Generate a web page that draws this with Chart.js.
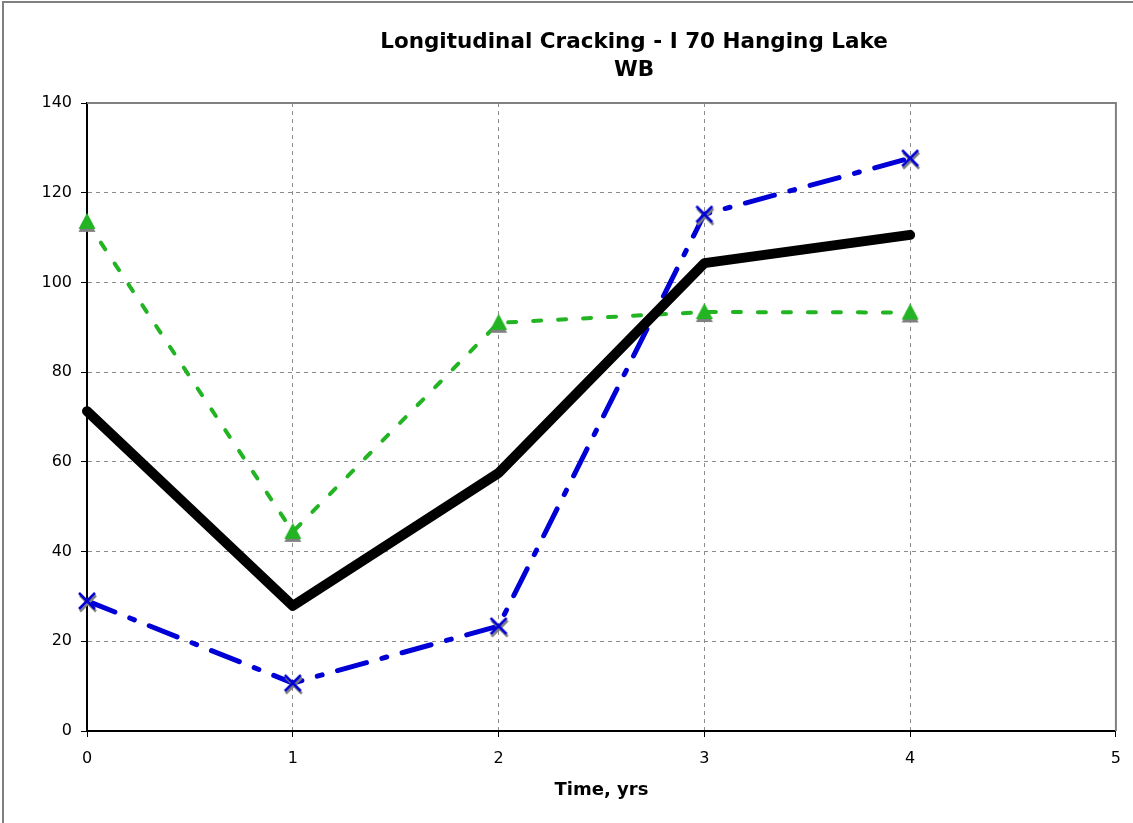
<!DOCTYPE html>
<html>
<head>
    <title>Longitudinal Cracking - I 70 Hanging Lake WB</title>
    <style type="text/css">
        body { margin: 0; background: #fff; }
        #chart-container { width: 1133px; height: 823px; position: relative; }
    </style>
    <script type="text/javascript" src="https://cdn.jsdelivr.net/npm/chart.js@4/dist/chart.umd.min.js"></script>
</head>
<body>

<div id="chart-container">
    <canvas id="graphCanvas"></canvas>
</div>

<script>
    var years = [0, 1, 2, 3, 4];
    var averageCracking = [71.3, 27.9, 57.5, 104.3, 110.6];
    var sectionA = [113.5, 44.4, 91.0, 93.4, 93.3];
    var sectionB = [29.0, 10.7, 23.4, 115.2, 127.7];
    var yTicks = [0, 20, 40, 60, 80, 100, 120, 140];
    var xTicks = [0, 1, 2, 3, 4, 5];

    function toPoints(values) {
        return years.map(function (x, i) { return { x: x, y: values[i] }; });
    }

    // marker images with the grey drop shadow Excel puts under them
    function triangleMarker(color) {
        var c = document.createElement('canvas');
        c.width = 28; c.height = 28;
        var g = c.getContext('2d');
        function tri(dy, fill) {
            g.fillStyle = fill;
            g.beginPath();
            g.moveTo(14, 5 + dy);
            g.lineTo(22.5, 21 + dy);
            g.lineTo(5.5, 21 + dy);
            g.closePath();
            g.fill();
        }
        tri(3, '#808080');
        tri(0, color);
        return c;
    }

    function crossMarker(color) {
        var c = document.createElement('canvas');
        c.width = 28; c.height = 28;
        var g = c.getContext('2d');
        function cross(dx, dy, stroke) {
            g.strokeStyle = stroke;
            g.lineWidth = 2.5;
            g.beginPath();
            g.moveTo(6 + dx, 6 + dy); g.lineTo(22 + dx, 22 + dy);
            g.moveTo(22 + dx, 6 + dy); g.lineTo(6 + dx, 22 + dy);
            g.stroke();
        }
        cross(1, 2.5, '#808080');
        cross(0, 0, color);
        return c;
    }

    var framePlugin = {
        id: 'frame',
        beforeDraw: function (chart) {
            var ctx = chart.ctx;
            ctx.save();
            ctx.fillStyle = '#fff';
            ctx.fillRect(0, 0, chart.width, chart.height);
            ctx.strokeStyle = '#808080';
            ctx.lineWidth = 2;
            ctx.strokeRect(3, 2, chart.width + 10, chart.height + 10);
            ctx.restore();
        },
        beforeDatasetsDraw: function (chart) {
            var a = chart.chartArea, ctx = chart.ctx;
            ctx.save();
            ctx.strokeStyle = '#808080';
            ctx.lineWidth = 2;
            ctx.beginPath();
            ctx.moveTo(a.left, a.top);
            ctx.lineTo(a.right, a.top);
            ctx.lineTo(a.right, a.bottom);
            ctx.stroke();
            ctx.restore();
        },
        afterDraw: function (chart) {
            var ctx = chart.ctx;
            ctx.save();
            ctx.fillStyle = '#000';
            ctx.textAlign = 'center';
            ctx.textBaseline = 'middle';
            ctx.font = 'bold 21.5px "DejaVu Sans", Verdana, sans-serif';
            ctx.fillText('Longitudinal Cracking - I 70 Hanging Lake', 634, 42);
            ctx.fillText('WB', 634, 70);
            ctx.restore();
        }
    };

    var chartdata = {
        datasets: [
            {
                label: 'Average',
                data: toPoints(averageCracking),
                borderColor: '#000',
                borderWidth: 10,
                borderCapStyle: 'round',
                borderJoinStyle: 'round',
                pointRadius: 0,
                clip: false
            },
            {
                label: 'Section A',
                data: toPoints(sectionA),
                borderColor: '#22b422',
                borderWidth: 4,
                borderDash: [8, 17],
                borderCapStyle: 'round',
                pointStyle: triangleMarker('#22b422'),
                pointRadius: 10,
                clip: false
            },
            {
                label: 'Section B',
                data: toPoints(sectionB),
                borderColor: '#0000d6',
                borderWidth: 5,
                borderDash: [30, 16, 5, 16],
                borderCapStyle: 'round',
                pointStyle: crossMarker('#0000d6'),
                pointRadius: 10,
                clip: false
            }
        ]
    };

    var gridOpts = {
        color: '#8c8c8c',
        lineWidth: 1,
        drawTicks: true,
        tickLength: 6,
        tickColor: '#000',
        tickBorderDash: [],
        tickWidth: 1
    };

    var tickFont = { family: '"DejaVu Sans", Verdana, sans-serif', size: 16 };

    var graphTarget = document.getElementById('graphCanvas');
    var lineGraph = new Chart(graphTarget, {
        type: 'line',
        data: chartdata,
        plugins: [framePlugin],
        options: {
            responsive: true,
            maintainAspectRatio: false,
            animation: false,
            layout: { padding: { top: 103, right: 16, left: 10, bottom: 20 } },
            plugins: {
                legend: { display: false },
                title: { display: false },
                tooltip: { enabled: false }
            },
            scales: {
                x: {
                    type: 'linear',
                    min: 0,
                    max: 5,
                    afterBuildTicks: function (axis) {
                        axis.ticks = xTicks.map(function (v) { return { value: v }; });
                    },
                    afterFit: function (axis) { axis.height = 72; },
                    grid: gridOpts,
                    border: { display: true, color: '#000', width: 2, dash: [4, 4] },
                    ticks: {
                        color: '#000',
                        padding: 12,
                        maxRotation: 0,
                        font: tickFont
                    },
                    title: {
                        display: true,
                        text: 'Time, yrs',
                        color: '#000',
                        padding: { top: 6, bottom: 2 },
                        font: { family: '"DejaVu Sans", Verdana, sans-serif', size: 18, weight: 'bold' }
                    }
                },
                y: {
                    min: 0,
                    max: 140,
                    afterBuildTicks: function (axis) {
                        axis.ticks = yTicks.map(function (v) { return { value: v }; });
                    },
                    afterFit: function (axis) { axis.width = 77; },
                    grid: gridOpts,
                    border: { display: true, color: '#000', width: 2, dash: [4, 4] },
                    ticks: {
                        color: '#000',
                        padding: 9,
                        font: tickFont
                    }
                }
            }
        }
    });
</script>

</body>
</html>
